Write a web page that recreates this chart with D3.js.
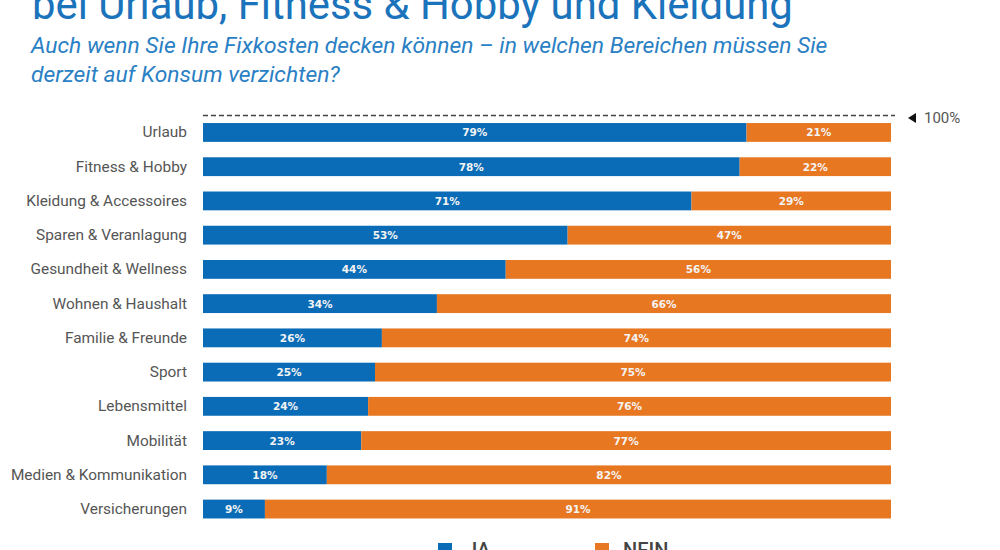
<!DOCTYPE html>
<html>
<head>
<meta charset="utf-8">
<script src="https://cdn.jsdelivr.net/npm/d3@7"></script>
<style>
  body { margin: 0; background: #fff; }
  svg { display: block; }
</style>
</head>
<body>
<svg id="chart" width="1000" height="550"></svg>
<script>
// data
let categories = ["Urlaub", "Fitness & Hobby", "Kleidung & Accessoires", "Sparen & Veranlagung",
    "Gesundheit & Wellness", "Wohnen & Haushalt", "Familie & Freunde", "Sport", "Lebensmittel",
    "Mobilität", "Medien & Kommunikation", "Versicherungen"];
let ja = [79, 78, 71, 53, 44, 34, 26, 25, 24, 23, 18, 9];
let nein = [21, 22, 29, 47, 56, 66, 74, 75, 76, 77, 82, 91];
let seriesNames = ["JA", "NEIN"];
let colors = ["#0a6cb7", "#e87722"];

let svg = d3.select("#chart");

// title, cut at top like the reference
let title = svg.append("text")
    .attr("x", 32)
    .attr("y", 19)
    .attr("fill", "#1a73bb")
    .style("font-family", "Roboto, sans-serif")
    .style("font-size", "36px")
    .text("bei Urlaub, Fitness & Hobby und Kleidung");
let tw = title.node().getComputedTextLength();
title.style("font-size", (36 * 761 / tw) + "px");

let subLines = ["Auch wenn Sie Ihre Fixkosten decken können – in welchen Bereichen müssen Sie",
    "derzeit auf Konsum verzichten?"];
let sub = svg.append("g");
subLines.forEach((s, i) => {
    sub.append("text")
        .attr("x", 31)
        .attr("y", 53 + i * 29)
        .attr("fill", "#2a80c4")
        .style("font-family", "Roboto, sans-serif")
        .style("font-style", "italic")
        .style("font-size", "19px")
        .text(s);
});
let sw = sub.select("text").node().getComputedTextLength();
sub.selectAll("text").style("font-size", (19 * 797 / sw) + "px");

let x = d3.scaleLinear().domain([0, 100]).range([203, 891]);
let y = d3.scaleBand().domain(categories).range([115.5, 526]).paddingInner(0.45).paddingOuter(0.22);

let rows = categories.map((c, i) => ({cat: c, vals: [ja[i], nein[i]]}));
let stack = d3.stack().keys([0, 1]).value((d, k) => d.vals[k]);
let layers = stack(rows);

// dashed 100% line
svg.append("line")
    .attr("x1", x(0)).attr("x2", x(100) + 4)
    .attr("y1", 115.5).attr("y2", 115.5)
    .attr("stroke", "#444")
    .attr("stroke-width", 1.3)
    .attr("stroke-dasharray", "5,3");
svg.append("path")
    .attr("d", "M908,118 L916,113 L916,123 Z")
    .attr("fill", "#111");
svg.append("text")
    .attr("x", 924).attr("y", 123)
    .attr("fill", "#555")
    .style("font-family", "Roboto, sans-serif")
    .style("font-size", "15px")
    .text("100%");

let groups = svg.selectAll("g.layer").data(layers).join("g")
    .attr("class", "layer")
    .attr("fill", (d, i) => colors[i]);

groups.selectAll("rect").data(d => d).join("rect")
    .attr("x", d => x(d[0]))
    .attr("y", d => y(d.data.cat))
    .attr("width", d => x(d[1]) - x(d[0]))
    .attr("height", y.bandwidth());

groups.selectAll("text").data(d => d).join("text")
    .attr("x", d => (x(d[0]) + x(d[1])) / 2)
    .attr("y", d => y(d.data.cat) + y.bandwidth() / 2 + 4)
    .attr("text-anchor", "middle")
    .attr("fill", "#f4f4f4")
    .style("font-family", "'DejaVu Sans', sans-serif")
    .style("font-weight", "600")
    .style("font-size", "10.5px")
    .text(d => (d[1] - d[0]) + "%");

// category labels
svg.append("g")
    .attr("transform", "translate(187,0)")
    .call(d3.axisLeft(y).tickSize(0).tickPadding(0))
    .call(g => g.select(".domain").remove())
    .selectAll("text")
    .attr("fill", "#555")
    .style("font-family", "Roboto, sans-serif")
    .style("font-size", "15.4px");

// legend, cut off at bottom
let legendX = [438, 595];
seriesNames.forEach((n, i) => {
    svg.append("rect")
        .attr("x", legendX[i]).attr("y", 543)
        .attr("width", 14).attr("height", 14)
        .attr("fill", colors[i]);
    svg.append("text")
        .attr("x", legendX[i] + 28).attr("y", 557)
        .attr("fill", "#444")
        .style("font-family", "Roboto, sans-serif")
        .style("font-size", "20px")
        .style("font-weight", "500")
        .text(n);
});
</script>
</body>
</html>
